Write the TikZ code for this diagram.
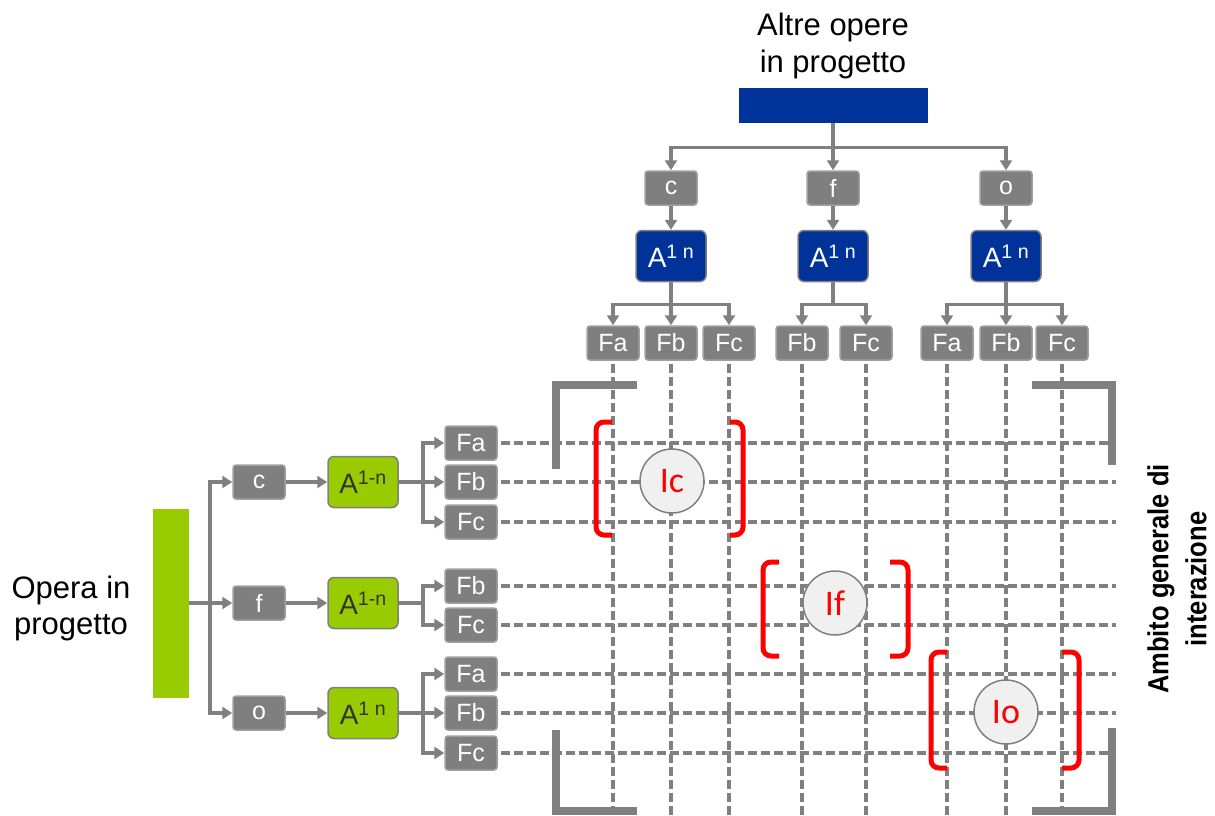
\documentclass[tikz,border=0pt]{standalone}
\usepackage{fontspec}
\setmainfont{Liberation Sans}
\newfontfamily\condfont[FakeStretch=0.88]{Liberation Sans}
\newfontfamily\calfont{Carlito}
\usetikzlibrary{arrows.meta}
\definecolor{boxgray}{HTML}{7F7F7F}
\definecolor{boxedge}{HTML}{A0A0A0}
\definecolor{linegray}{HTML}{808080}
\definecolor{myblue}{HTML}{003399}
\definecolor{mygreen}{HTML}{99CC00}
\definecolor{circfill}{HTML}{F0F0F0}
\definecolor{myred}{HTML}{FF0000}
\begin{document}
\begin{tikzpicture}[x=1pt,y=-1pt,
 gbox/.style={rectangle, rounded corners=3pt, fill=boxgray, draw=boxedge, line width=1.5pt, minimum width=52pt, minimum height=34pt, inner sep=0pt, text=white, font=\fontsize{25}{25}\selectfont},
 bbox/.style={rectangle, rounded corners=6pt, fill=myblue, draw=boxgray, line width=1.5pt, minimum width=70pt, minimum height=51pt, inner sep=0pt, text=white, font=\fontsize{28}{28}\selectfont},
 grbox/.style={bbox, fill=mygreen, text=black!80},
 conn/.style={draw=linegray, line width=3.5pt},
 arr/.style={conn, -{Triangle[length=10pt,width=12pt]}},
 gridline/.style={draw=linegray, line width=3.5pt, dash pattern=on 9pt off 4pt},
 corner/.style={draw=linegray, line width=8pt},
 redbr/.style={draw=myred, line width=5pt, rounded corners=8pt},
 circ/.style={circle, fill=circfill, draw=boxgray, line width=1.5pt, minimum size=64pt, inner sep=0pt, text=myred, font=\calfont\fontsize{36}{36}\selectfont},
]
\useasboundingbox (0,0) rectangle (1215,816);

% ---------- top part ----------
\node[font=\fontsize{31}{37}\selectfont, align=center] (title) at (833,46) {Altre opere\\in progetto};
\node[fill=myblue, minimum width=189pt, minimum height=35pt, inner sep=0pt] (top) at (833,105) {};

\node[gbox] (tc) at (671,188) {c};
\node[gbox] (tf) at (833,188) {f};
\node[gbox] (to) at (1006,188) {o};

\node[bbox] (tA1) at (671,256) {A\textsuperscript{1 n}};
\node[bbox] (tA2) at (833,256) {A\textsuperscript{1 n}};
\node[bbox] (tA3) at (1006,256) {A\textsuperscript{1 n}};

\node[gbox] (tFa1) at (613,343) {Fa};
\node[gbox] (tFb1) at (671,343) {Fb};
\node[gbox] (tFc1) at (729,343) {Fc};
\node[gbox] (tFb2) at (802,343) {Fb};
\node[gbox] (tFc2) at (866,343) {Fc};
\node[gbox] (tFa3) at (947,343) {Fa};
\node[gbox] (tFb3) at (1006,343) {Fb};
\node[gbox] (tFc3) at (1062,343) {Fc};

\draw[arr] (top.south) -- ++(0,25) -| (tc.north);
\draw[arr] (top.south) -- (tf.north);
\draw[arr] (top.south) -- ++(0,25) -| (to.north);
\draw[arr] (tc.south) -- (tA1.north);
\draw[arr] (tf.south) -- (tA2.north);
\draw[arr] (to.south) -- (tA3.north);
\draw[arr] (tA1.south) -- ++(0,22) -| (tFa1.north);
\draw[arr] (tA1.south) -- (tFb1.north);
\draw[arr] (tA1.south) -- ++(0,22) -| (tFc1.north);
\draw[arr] (tA2.south) -- ++(0,22) -| (tFb2.north);
\draw[arr] (tA2.south) -- ++(0,22) -| (tFc2.north);
\draw[arr] (tA3.south) -- ++(0,22) -| (tFa3.north);
\draw[arr] (tA3.south) -- (tFb3.north);
\draw[arr] (tA3.south) -- ++(0,22) -| (tFc3.north);

% ---------- left part ----------
\node[font=\fontsize{31}{36}\selectfont, align=center] (opera) at (71,608) {Opera in\\progetto};
\node[fill=mygreen, minimum width=36pt, minimum height=189pt, inner sep=0pt] (green) at (171,603) {};

\node[gbox] (lc) at (259,482) {c};
\node[gbox] (lf) at (259,603) {f};
\node[gbox] (lo) at (259,713) {o};

\node[grbox] (lA1) at (363,482) {A\textsuperscript{1-n}};
\node[grbox] (lA2) at (363,603) {A\textsuperscript{1-n}};
\node[grbox] (lA3) at (363,713) {A\textsuperscript{1 n}};

\node[gbox] (lFa1) at (471,443) {Fa};
\node[gbox] (lFb1) at (471,482) {Fb};
\node[gbox] (lFc1) at (471,522) {Fc};
\node[gbox] (lFb2) at (471,586) {Fb};
\node[gbox] (lFc2) at (471,625) {Fc};
\node[gbox] (lFa3) at (471,674) {Fa};
\node[gbox] (lFb3) at (471,713) {Fb};
\node[gbox] (lFc3) at (471,753) {Fc};

\draw[arr] (green.east) -- ++(21,0) |- (lc.west);
\draw[arr] (green.east) -- (lf.west);
\draw[arr] (green.east) -- ++(21,0) |- (lo.west);
\draw[arr] (lc.east) -- (lA1.west);
\draw[arr] (lf.east) -- (lA2.west);
\draw[arr] (lo.east) -- (lA3.west);
\draw[arr] (lA1.east) -- ++(24,0) |- (lFa1.west);
\draw[arr] (lA1.east) -- (lFb1.west);
\draw[arr] (lA1.east) -- ++(24,0) |- (lFc1.west);
\draw[arr] (lA2.east) -- ++(24,0) |- (lFb2.west);
\draw[arr] (lA2.east) -- ++(24,0) |- (lFc2.west);
\draw[arr] (lA3.east) -- ++(24,0) |- (lFa3.west);
\draw[arr] (lA3.east) -- (lFb3.west);
\draw[arr] (lA3.east) -- ++(24,0) |- (lFc3.west);

% ---------- grid ----------
\coordinate (xend) at (1116,0);
\coordinate (yend) at (0,816);
\foreach \n in {lFa1,lFb1,lFc1,lFb2,lFc2,lFa3,lFb3,lFc3}
  \draw[gridline] ([xshift=3pt]\n.east) -- (\n.east -| xend);
\foreach \n in {tFa1,tFb1,tFc1,tFb2,tFc2,tFa3,tFb3,tFc3}
  \draw[gridline] ([yshift=-3pt]\n.south) -- (\n.south |- yend);

% ---------- gray corners ----------
\draw[corner] (637,385) -- (556,385) -- (556,469);
\draw[corner] (1032,385) -- (1112,385) -- (1112,465);
\draw[corner] (556,730) -- (556,811) -- (637,811);
\draw[corner] (1112,728) -- (1112,811) -- (1032,811);

% ---------- red brackets ----------
\draw[redbr] (612,422) -- (596,422) -- (596,535) -- (612,535);
\draw[redbr] (730,422) -- (743,422) -- (743,535) -- (730,535);
\draw[redbr] (779,562) -- (763,562) -- (763,656) -- (779,656);
\draw[redbr] (890,562) -- (908,562) -- (908,656) -- (890,656);
\draw[redbr] (947,652) -- (931,652) -- (931,768) -- (947,768);
\draw[redbr] (1062,652) -- (1079,652) -- (1079,768) -- (1062,768);

% ---------- circles ----------
\node[circ] (Ic) at (672,481) {Ic};
\node[circ] (If) at (835,603) {If};
\node[circ] (Io) at (1006,712) {Io};

% ---------- right label ----------
\node[rotate=90, align=center, inner sep=0pt, font=\condfont\bfseries\fontsize{29}{38}\selectfont] (amb) at (1177,579) {Ambito generale di\\interazione};
\end{tikzpicture}
\end{document}
